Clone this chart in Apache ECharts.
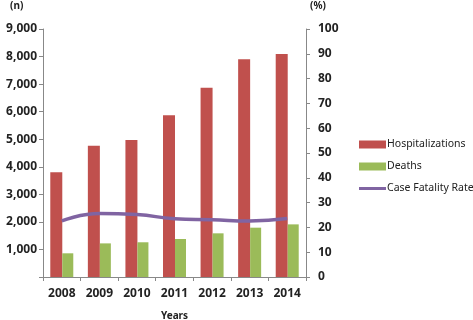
<!DOCTYPE html>
<html>
<head>
<meta charset="utf-8">
<script src="https://cdn.jsdelivr.net/npm/echarts@6/dist/echarts.min.js"></script>
<style>
html,body{margin:0;padding:0;background:#fff;}
#chart{width:473px;height:320px;}
</style>
</head>
<body>
<div id="chart"></div>
<script>
var years = ['2008', '2009', '2010', '2011', '2012', '2013', '2014'];
var hospitalizations = [3800, 4760, 4970, 5870, 6870, 7900, 8090];
var deaths = [860, 1220, 1260, 1380, 1585, 1790, 1910];
var fatalityRate = [22.6, 25.6, 25.2, 23.5, 23.1, 22.6, 23.6];

var myChart = echarts.init(document.getElementById('chart'));
var labelStyle = { color: '#222', fontSize: 12, fontWeight: 'bold', fontFamily: 'Noto Sans' };

var option = {
  animation: false,
  grid: { left: 43, right: 167, top: 29, bottom: 43, outerBoundsMode: 'none' },
  legend: {
    orient: 'vertical',
    left: 354,
    top: 134,
    itemWidth: 27,
    itemHeight: 8,
    itemGap: 11,
    textStyle: { color: '#222', fontSize: 10.5, fontFamily: 'Noto Sans', padding: [0, 0, 0, -4] },
    data: [
      { name: 'Hospitalizations', icon: 'rect' },
      { name: 'Deaths', icon: 'rect' },
      { name: 'Case Fatality Rate', icon: 'path://M0,0H27V3H0Z' }
    ]
  },
  graphic: [
    { type: 'text', left: 10, top: 1, style: { text: '(n)', font: 'bold 10px Noto Sans', fill: '#222' } },
    { type: 'text', left: 310, top: 1, style: { text: '(%)', font: 'bold 10px Noto Sans', fill: '#222' } }
  ],
  xAxis: {
    type: 'category',
    data: years,
    name: 'Years',
    nameLocation: 'middle',
    nameGap: 34,
    nameTextStyle: { color: '#222', fontSize: 10, fontWeight: 'bold', fontFamily: 'Noto Sans' },
    axisLine: { lineStyle: { color: '#888' } },
    axisTick: { show: true, alignWithLabel: false, length: 4, lineStyle: { color: '#888' } },
    axisLabel: Object.assign({ margin: 11, interval: 0 }, labelStyle)
  },
  yAxis: [
    {
      type: 'value', min: 0, max: 9000, interval: 1000,
      splitLine: { show: false },
      axisLine: { show: true, lineStyle: { color: '#888' } },
      axisTick: { show: true, length: 4, lineStyle: { color: '#888' } },
      axisLabel: Object.assign({ margin: 6, formatter: function (v) { return v === 0 ? '' : v.toLocaleString('en-US'); } }, labelStyle)
    },
    {
      type: 'value', min: 0, max: 100, interval: 10, position: 'right',
      splitLine: { show: false },
      axisLine: { show: true, lineStyle: { color: '#888' } },
      axisTick: { show: true, length: 4, lineStyle: { color: '#888' } },
      axisLabel: Object.assign({ margin: 12 }, labelStyle)
    }
  ],
  series: [
    {
      name: 'Hospitalizations', type: 'bar', data: hospitalizations,
      barWidth: 12, barGap: '0%',
      itemStyle: { color: '#c0504d' }
    },
    {
      name: 'Deaths', type: 'bar', data: deaths,
      barWidth: 11,
      itemStyle: { color: '#9bbb59' }
    },
    {
      name: 'Case Fatality Rate', type: 'line', yAxisIndex: 1, data: fatalityRate,
      smooth: true, symbol: 'none',
      lineStyle: { color: '#8064a2', width: 3.5 },
      itemStyle: { color: '#8064a2' }
    }
  ]
};
myChart.setOption(option);
</script>
</body>
</html>
